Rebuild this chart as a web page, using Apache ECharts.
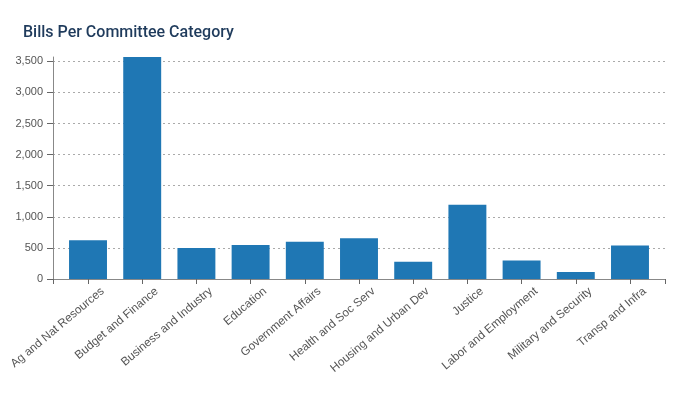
<!DOCTYPE html>
<html><head><meta charset="utf-8">
<script src="https://cdn.jsdelivr.net/npm/echarts@6/dist/echarts.min.js"></script>
<style>html,body{margin:0;padding:0;background:#fff}#c{width:700px;height:420px}</style>
</head><body><div id="c"></div>
<script>
const title = 'Bills Per Committee Category';
const categories = ['Ag and Nat Resources','Budget and Finance','Business and Industry','Education','Government Affairs','Health and Soc Serv','Housing and Urban Dev','Justice','Labor and Employment','Military and Security','Transp and Infra'];
const bills = [625, 3570, 497, 545, 598, 657, 277, 1196, 298, 112, 539];
const yTicks = [0, 500, 1000, 1500, 2000, 2500, 3000, 3500];

const pad = 0.646;
const barFrac = 0.7;
const idx = categories.map((c, i) => i);
const chart = echarts.init(document.getElementById('c'), null, {renderer: 'canvas'});
chart.setOption({
  animation: false,
  backgroundColor: '#fff',
  title: {text: title, left: 18, top: 20, textStyle: {fontFamily: 'Roboto', fontSize: 16, fontWeight: 500, color: '#1f3b5c'}},
  grid: {left: 53, right: 35, top: 57, bottom: 141, containLabel: false, outerBoundsMode: 'none'},
  xAxis: {
    type: 'value', min: -pad, max: categories.length - 1 + pad,
    axisLine: {show: true, onZero: false, lineStyle: {color: '#888', width: 1}},
    axisTick: {show: true, length: 5, customValues: [-pad].concat(idx, [categories.length - 1 + pad]), lineStyle: {color: '#666'}},
    axisLabel: {customValues: idx, rotate: 40, margin: 23, padding: [0, -19, 0, 0], fontFamily: 'Arial', fontSize: 11.7, color: '#555',
      formatter: v => categories[Math.round(v)] || ''},
    splitLine: {show: false}
  },
  yAxis: {
    type: 'value', min: 0, max: Math.max(...bills), interval: 500,
    axisLine: {show: true, onZero: false, lineStyle: {color: '#888', width: 1}},
    axisTick: {show: true, length: 6, lineStyle: {color: '#666'}},
    axisLabel: {showMaxLabel: false, fontFamily: 'Arial', fontSize: 11, color: '#555', margin: 10,
      formatter: v => yTicks.includes(v) ? v.toLocaleString('en-US') : ''},
    splitLine: {show: true, showMinLine: false, showMaxLine: false, lineStyle: {color: '#aaa', type: [2, 3], width: 1}}
  },
  series: [{
    type: 'custom',
    data: bills.map((v, i) => [i, v]),
    encode: {x: 0, y: 1},
    renderItem: function (params, api) {
      const top = api.coord([api.value(0), api.value(1)]);
      const base = api.coord([api.value(0), 0]);
      const w = api.size([1, 0])[0] * barFrac;
      return {type: 'rect', shape: {x: top[0] - w / 2, y: top[1], width: w, height: base[1] - top[1]},
        style: {fill: '#1f77b4'}};
    }
  }]
});
</script></body></html>
